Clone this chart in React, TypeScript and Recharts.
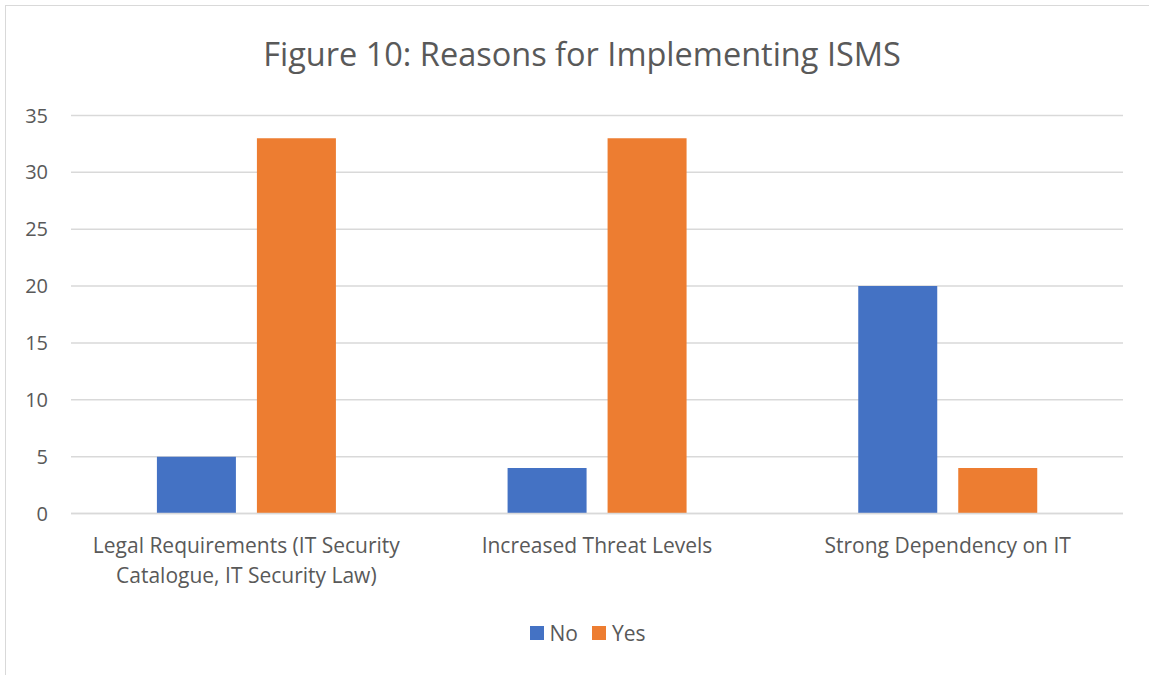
import { BarChart, Bar, XAxis, YAxis, CartesianGrid, Legend } from "recharts";

const categories = [
  "Legal Requirements (IT Security Catalogue, IT Security Law)",
  "Increased Threat Levels",
  "Strong Dependency on IT",
];
const noValues = [5, 4, 20];
const yesValues = [33, 33, 4];
const yTicks = [0, 5, 10, 15, 20, 25, 30, 35];

const data = categories.map((name, i) => ({
  name,
  No: noValues[i],
  Yes: yesValues[i],
}));

const FONT = "'Open Sans', sans-serif";
const TEXT = "#595959";
const GRID = "#d9d9d9";
const BLUE = "#4472C4";
const ORANGE = "#ED7D31";

// greedy word wrap by character count
function wrapLabel(label: string, maxChars: number) {
  const lines: string[] = [];
  let cur = "";
  for (const word of label.split(" ")) {
    const next = cur ? cur + " " + word : word;
    if (next.length > maxChars && cur) {
      lines.push(cur);
      cur = word;
    } else {
      cur = next;
    }
  }
  if (cur) lines.push(cur);
  return lines;
}

function CategoryTick(props: any) {
  const { x, y, payload } = props;
  const lines = wrapLabel(String(payload.value), 32);
  return (
    <text
      x={x}
      y={y + 31}
      textAnchor="middle"
      fill={TEXT}
      fontSize={21}
      fontFamily={FONT}
    >
      {lines.map((line, i) => (
        <tspan key={i} x={x} dy={i === 0 ? 0 : 30}>
          {line}
        </tspan>
      ))}
    </text>
  );
}

function LegendContent() {
  const items = [
    { label: "No", color: BLUE },
    { label: "Yes", color: ORANGE },
  ];
  return (
    <div
      style={{
        display: "flex",
        justifyContent: "center",
        alignItems: "center",
        gap: 14,
        paddingLeft: 52,
        fontFamily: FONT,
        fontSize: 21,
        color: TEXT,
      }}
    >
      {items.map((it) => (
        <div key={it.label} style={{ display: "flex", alignItems: "center", gap: 6 }}>
          <span style={{ width: 14, height: 14, background: it.color, display: "inline-block" }} />
          <span>{it.label}</span>
        </div>
      ))}
    </div>
  );
}

export default function App() {
  return (
    <div
      style={{
        position: "fixed",
        left: 0,
        top: 0,
        width: 1149,
        height: 675,
        overflow: "hidden",
        background: "#fff",
      }}
    >
      <div
        style={{
          position: "absolute",
          left: 5,
          top: 5,
          width: 1160,
          height: 700,
          border: `1.5px solid ${GRID}`,
        }}
      />
      <div
        style={{
          position: "absolute",
          left: 5,
          width: 1154,
          top: 31,
          textAlign: "center",
          fontFamily: FONT,
          fontSize: 32.5,
          color: TEXT,
        }}
      >
        Figure 10: Reasons for Implementing ISMS
      </div>
      <div style={{ position: "absolute", left: 0, top: 0 }}>
        <BarChart
          width={1149}
          height={675}
          data={data}
          margin={{ top: 115.5, right: 26, bottom: 16, left: 0 }}
          barGap={21}
          barCategoryGap="24.5%"
        >
          <CartesianGrid vertical={false} stroke={GRID} strokeWidth={1.5} />
          <XAxis
            dataKey="name"
            height={105.5}
            axisLine={{ stroke: GRID, strokeWidth: 1.5 }}
            tickLine={false}
            interval={0}
            tick={<CategoryTick />}
          />
          <YAxis
            width={71}
            domain={[0, 35]}
            ticks={yTicks}
            axisLine={false}
            tickLine={false}
            tickSize={0}
            tickMargin={23}
            tick={{ fill: TEXT, fontSize: 20, fontFamily: FONT }}
          />
          <Legend verticalAlign="bottom" height={40} content={<LegendContent />} />
          <Bar dataKey="No" fill={BLUE} isAnimationActive={false} />
          <Bar dataKey="Yes" fill={ORANGE} isAnimationActive={false} />
        </BarChart>
      </div>
    </div>
  );
}
